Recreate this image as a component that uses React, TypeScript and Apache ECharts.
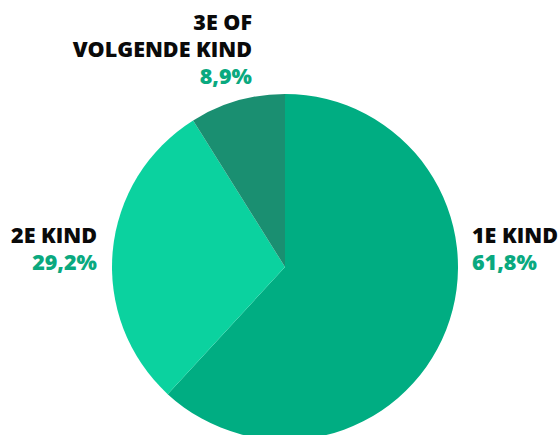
import React, { useEffect, useRef } from "react";
import * as echarts from "echarts";

const categories = ["1E KIND", "2E KIND", "3E OF\nVOLGENDE KIND"];
const values = [61.8, 29.2, 8.9];
const sliceColors = ["#00ad82", "#0bd29f", "#1a8f71"];
// label anchor: [x, y, align]
const labelAnchors: [number, number, "left" | "right"][] = [
  [472, 221, "left"],
  [97, 221, "right"],
  [252, 8, "right"],
];

export default function App() {
  const ref = useRef<HTMLDivElement>(null);
  useEffect(() => {
    if (!ref.current) return;
    const chart = echarts.init(ref.current, undefined, { renderer: "svg" });
    const fmt = (v: number) => v.toFixed(1).replace(".", ",") + "%";
    chart.setOption({
      animation: false,
      backgroundColor: "#ffffff",
      series: [
        {
          type: "pie",
          center: [285, 267],
          radius: 173,
          startAngle: 90,
          clockwise: true,
          labelLine: { show: false },
          data: categories.map((c, i) => ({
            name: c,
            value: values[i],
            itemStyle: { color: sliceColors[i] },
            label: {
              show: true,
              position: "outside",
              overflow: "none",
              width: 300,
              formatter: () =>
                c
                  .split("\n")
                  .map((l) => `{n|${l}}`)
                  .join("\n") + `\n{p|${fmt(values[i])}}`,
              rich: {
                n: {
                  fontFamily: "Open Sans",
                  fontWeight: 800,
                  fontSize: 21.5,
                  lineHeight: 27,
                  color: "#0a0a0a",
                  align: labelAnchors[i][2],
                },
                p: {
                  fontFamily: "Open Sans",
                  fontWeight: 800,
                  fontSize: 21.5,
                  lineHeight: 27,
                  color: "#0aa97f",
                  align: labelAnchors[i][2],
                },
              },
            },
          })),
          labelLayout: (params: any) => {
            const a = labelAnchors[params.dataIndex];
            return { x: a[0], y: a[1], align: a[2], verticalAlign: "top", hideOverlap: false };
          },
        },
      ],
    });
    return () => chart.dispose();
  }, []);
  return (
    <div
      ref={ref}
      style={{ position: "absolute", left: 0, top: 0, width: 558, height: 435 }}
    />
  );
}
